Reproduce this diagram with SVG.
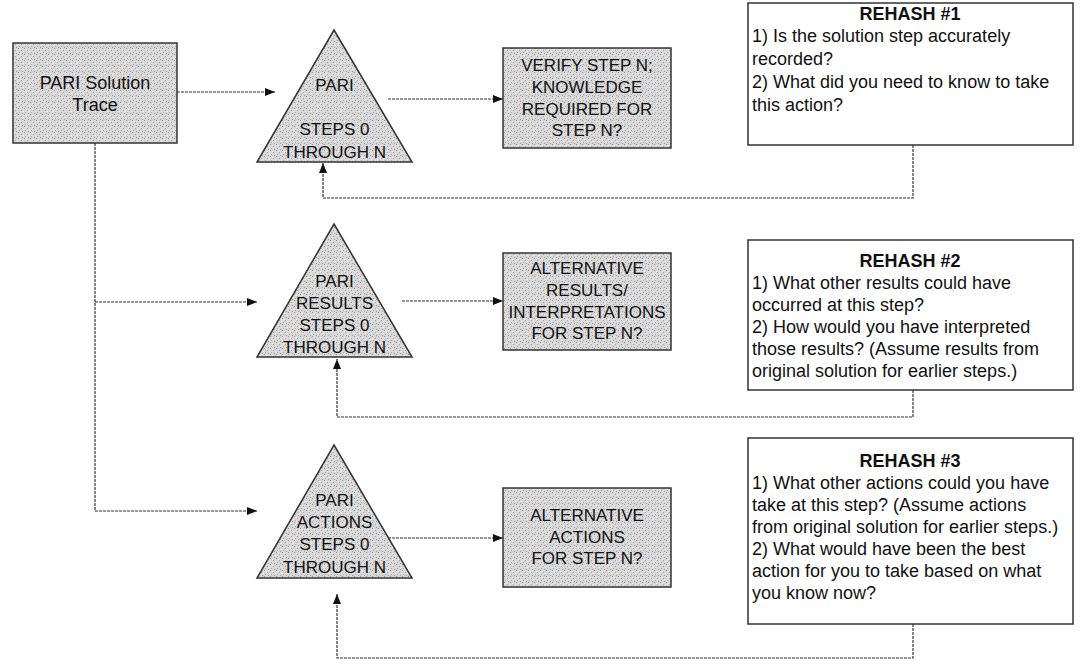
<svg xmlns="http://www.w3.org/2000/svg" width="1081" height="670" viewBox="0 0 1081 670">
<defs>
<pattern id="stip" width="6" height="6" patternUnits="userSpaceOnUse">
<rect width="6" height="6" fill="#d8d8d8"/>
<rect x="0" y="0" width="1" height="1" fill="#959595"/>
<rect x="3" y="2" width="1" height="1" fill="#a5a5a5"/>
<rect x="1" y="4" width="1" height="1" fill="#ababab"/>
<rect x="4" y="5" width="1" height="1" fill="#9a9a9a"/>
<rect x="2" y="1" width="1" height="1" fill="#f4f4f4"/>
<rect x="5" y="3" width="1" height="1" fill="#f0f0f0"/>
</pattern>
<marker id="ah" markerWidth="10" markerHeight="8" refX="10" refY="4" orient="auto" markerUnits="userSpaceOnUse">
<path d="M0,0 L10,4 L0,8 Z" fill="#111"/>
</marker>
</defs>
<style>
.sh{fill:url(#stip);stroke:#333;stroke-width:1.5}
.wb{fill:#fff;stroke:#333;stroke-width:1.5}
.t{font-family:"Liberation Sans",Arial,sans-serif;font-size:18px;fill:#111}
.s{font-size:17px}
.c{text-anchor:middle}
.b{font-weight:bold}
.cn{fill:none;stroke:#333;stroke-width:1.2;stroke-dasharray:3 1}
</style>

<g id="connectors">
<path class="cn" d="M177,92 H275" marker-end="url(#ah)"/>
<path class="cn" d="M388,99 H503" marker-end="url(#ah)"/>
<path class="cn" d="M95,143 V511"/>
<path class="cn" d="M95,302 H257" marker-end="url(#ah)"/>
<path class="cn" d="M95,511 H257" marker-end="url(#ah)"/>
<path class="cn" d="M402,301 H503" marker-end="url(#ah)"/>
<path class="cn" d="M388,538 H503" marker-end="url(#ah)"/>
<path class="cn" d="M913,145 V198 H323 V163" marker-end="url(#ah)"/>
<path class="cn" d="M913,390 V417 H337 V359" marker-end="url(#ah)"/>
<path class="cn" d="M913,624 V658 H337 V594" marker-end="url(#ah)"/>
</g>

<g id="trace">
<rect class="sh" x="13" y="43" width="164" height="100"/>
<text class="t c" x="95" y="89">PARI Solution</text>
<text class="t c" x="95" y="111">Trace</text>
</g>

<g id="tri1">
<path class="sh" d="M334,30 L412,162 L257,162 Z"/>
<text class="t s c" x="334.5" y="91">PARI</text>
<text class="t s c" x="334.5" y="135">STEPS 0</text>
<text class="t s c" x="334.5" y="158">THROUGH N</text>
</g>

<g id="tri2">
<path class="sh" d="M334,224 L412,357 L257,357 Z"/>
<text class="t s c" x="334.5" y="287">PARI</text>
<text class="t s c" x="334.5" y="309">RESULTS</text>
<text class="t s c" x="334.5" y="331">STEPS 0</text>
<text class="t s c" x="334.5" y="353">THROUGH N</text>
</g>

<g id="tri3">
<path class="sh" d="M334,445 L412,578 L257,578 Z"/>
<text class="t s c" x="334.5" y="506">PARI</text>
<text class="t s c" x="334.5" y="528">ACTIONS</text>
<text class="t s c" x="334.5" y="550">STEPS 0</text>
<text class="t s c" x="334.5" y="573">THROUGH N</text>
</g>

<g id="box1">
<rect class="sh" x="503" y="48" width="168" height="100"/>
<text class="t s c" x="587" y="71">VERIFY STEP N;</text>
<text class="t s c" x="587" y="93">KNOWLEDGE</text>
<text class="t s c" x="587" y="115">REQUIRED FOR</text>
<text class="t s c" x="587" y="136">STEP N?</text>
</g>

<g id="box2">
<rect class="sh" x="503" y="253" width="168" height="97"/>
<text class="t s c" x="587" y="274">ALTERNATIVE</text>
<text class="t s c" x="587" y="296">RESULTS/</text>
<text class="t s c" x="587" y="318">INTERPRETATIONS</text>
<text class="t s c" x="587" y="339">FOR STEP N?</text>
</g>

<g id="box3">
<rect class="sh" x="503" y="488" width="168" height="99"/>
<text class="t s c" x="587" y="521">ALTERNATIVE</text>
<text class="t s c" x="587" y="543">ACTIONS</text>
<text class="t s c" x="587" y="564">FOR STEP N?</text>
</g>

<g id="rehash1">
<rect class="wb" x="748" y="3" width="325" height="142"/>
<text class="t c b" x="910" y="20">REHASH #1</text>
<text class="t" x="752" y="42">1) Is the solution step accurately</text>
<text class="t" x="752" y="65">recorded?</text>
<text class="t" x="752" y="88">2) What did you need to know to take</text>
<text class="t" x="752" y="111">this action?</text>
</g>

<g id="rehash2">
<rect class="wb" x="748" y="240" width="325" height="150"/>
<text class="t c b" x="910" y="267">REHASH #2</text>
<text class="t" x="752" y="289">1) What other results could have</text>
<text class="t" x="752" y="311">occurred at this step?</text>
<text class="t" x="752" y="333">2) How would you have interpreted</text>
<text class="t" x="752" y="355">those results? (Assume results from</text>
<text class="t" x="752" y="377">original solution for earlier steps.)</text>
</g>

<g id="rehash3">
<rect class="wb" x="748" y="438" width="325" height="186"/>
<text class="t c b" x="910" y="467">REHASH #3</text>
<text class="t" x="752" y="489">1) What other actions could you have</text>
<text class="t" x="752" y="511">take at this step? (Assume actions</text>
<text class="t" x="752" y="533">from original solution for earlier steps.)</text>
<text class="t" x="752" y="555">2) What would have been the best</text>
<text class="t" x="752" y="577">action for you to take based on what</text>
<text class="t" x="752" y="599">you know now?</text>
</g>
</svg>
